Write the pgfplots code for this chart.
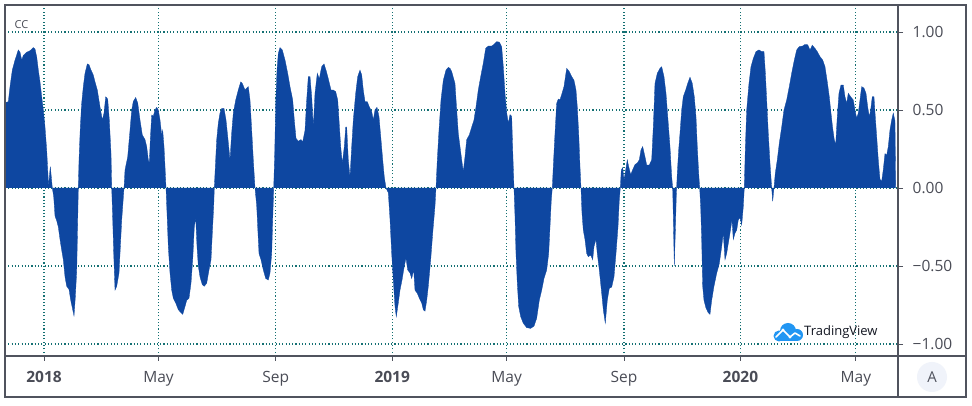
\documentclass[border=0pt]{standalone}
\usepackage{pgfplots}
\pgfplotsset{compat=1.18}
\usepackage{fontspec}
\setmainfont{Open Sans}
\definecolor{tvblue}{RGB}{14,71,161}
\definecolor{gridc}{RGB}{20,112,115}
\definecolor{bord}{RGB}{80,83,94}
\definecolor{txt}{RGB}{74,76,86}
\definecolor{logoblue}{RGB}{33,150,243}
\definecolor{btn}{RGB}{240,243,250}
\pgfplotstableread{
px val
5 0
5 0.547
8.3 0.553
10 0.65
12.3 0.756
15 0.82
18.3 0.885
20 0.87
21.7 0.82
23.3 0.85
26.7 0.87
30 0.88
33.3 0.90
35 0.89
36.7 0.84
38.3 0.756
40 0.68
41.7 0.585
43.3 0.5
45 0.39
46.7 0.24
47.7 0.115
48.7 0.0
49.3 0.07
50.3 0.137
51.3 0.07
52.3 0
53.7 -0.056
55 -0.18
56.7 -0.21
58.3 -0.25
60 -0.33
61.7 -0.40
63.3 -0.46
65 -0.57
66.7 -0.63
69 -0.65
70.7 -0.72
72.7 -0.78
74 -0.82
75.3 -0.70
76.7 -0.53
77.7 -0.205
78.3 0
79 0.18
80.3 0.39
81.7 0.545
83.3 0.65
85 0.735
87.3 0.795
89 0.79
91 0.756
93.3 0.724
95 0.68
97.3 0.628
100 0.52
102.3 0.436
104 0.48
105.7 0.585
107.7 0.57
109.3 0.436
111 0.22
111.7 0
112.7 -0.2
113.7 -0.42
115 -0.655
116.7 -0.63
119 -0.545
120 -0.42
121.7 -0.205
124 0
125 0.115
127.7 0.2
130 0.37
131.7 0.5
133.3 0.555
135.7 0.58
137.7 0.545
140 0.436
142.3 0.34
145 0.31
146.7 0.265
148.3 0.18
149.3 0.16
150.3 0.31
151.7 0.468
153.3 0.46
155 0.5
156.7 0.517
158.3 0.5
160 0.436
161.7 0.34
162.7 0.37
164 0.265
165 0.137
166 0
167 -0.16
168.3 -0.376
170 -0.545
171.7 -0.655
173.3 -0.706
175.7 -0.737
178.3 -0.78
181 -0.80
182.7 -0.81
185 -0.76
186.7 -0.72
189 -0.706
191 -0.61
192.7 -0.46
194.3 -0.25
195.7 -0.19
197 -0.376
198.3 -0.50
200 -0.57
202.3 -0.62
204.3 -0.63
206.7 -0.61
209 -0.525
211 -0.46
212.3 -0.29
213.7 -0.115
214.3 0
215 0.094
216.7 0.31
218.3 0.415
220 0.48
221.7 0.51
224 0.51
226 0.436
227.7 0.33
230 0.18
231.7 0.355
233.3 0.48
235.7 0.564
238.3 0.628
240.7 0.68
242.3 0.67
245 0.628
246.7 0.64
248.3 0.65
250 0.564
251.7 0.37
253.3 0.18
255 0
256.7 -0.115
257.7 -0.25
259 -0.42
261 -0.46
263.3 -0.525
265.7 -0.58
268.3 -0.59
270 -0.545
271.7 -0.42
272.7 -0.2
273.7 0
274.7 0.22
275.7 0.54
277 0.756
278.3 0.863
280 0.90
282.3 0.885
285 0.82
287.7 0.735
290 0.65
292.7 0.564
294.3 0.436
296 0.318
298.3 0.30
301 0.31
302.7 0.295
305 0.37
306.7 0.564
308.3 0.714
310 0.714
311.7 0.585
313.3 0.39
315 0.607
317.3 0.735
319.3 0.70
321.7 0.778
324 0.795
326 0.756
328.3 0.70
331 0.628
333.3 0.628
335.7 0.617
337.7 0.564
339 0.436
340.7 0.265
342.3 0.158
344.3 0.265
345.7 0.39
346.7 0.39
348.3 0.18
350 0.07
351.7 0.265
353.3 0.436
355.7 0.607
357.7 0.714
360 0.756
361.7 0.724
363.3 0.628
365 0.553
367.3 0.553
369.3 0.52
371.7 0.49
373.3 0.436
375 0.5
377 0.517
379 0.457
381 0.31
382.7 0.18
384.3 0.07
386 0
388.3 -0.03
390 -0.2
391.7 -0.42
393.3 -0.59
395 -0.76
396.3 -0.825
398.3 -0.737
400 -0.655
402.3 -0.58
404.3 -0.50
406 -0.45
407.7 -0.525
410 -0.545
411.7 -0.58
413.7 -0.525
415 -0.655
417.3 -0.675
419.3 -0.706
421.7 -0.737
423.3 -0.78
425 -0.79
426.7 -0.72
428.3 -0.63
430.7 -0.46
432.7 -0.29
435 -0.115
436 0
437.3 0.18
439 0.37
441 0.564
443.3 0.69
446 0.756
448.3 0.773
450 0.767
451.7 0.746
455 0.67
456.7 0.5
458.3 0.35
460 0.265
461.7 0.18
463.3 0.105
465 0.2
466.7 0.31
469.3 0.34
471.7 0.39
474 0.436
476 0.52
478.3 0.628
480.7 0.714
483.3 0.8
485.7 0.895
488.3 0.91
491.7 0.91
494 0.92
496.7 0.938
499.3 0.935
501.7 0.905
503.3 0.778
505 0.607
506.7 0.483
508.3 0.415
510 0.47
511.7 0.46
512.7 0.244
514 0
515 -0.18
516 -0.42
517.3 -0.61
518.7 -0.76
520.7 -0.825
523.3 -0.867
526.7 -0.895
530.7 -0.90
534 -0.885
536.7 -0.835
539.3 -0.72
541.7 -0.655
544 -0.58
546.7 -0.525
548.7 -0.42
550 -0.25
551.3 -0.077
552.3 0
553.3 0.137
555 0.35
556.7 0.543
558.3 0.57
560 0.565
561.7 0.60
564 0.65
566.7 0.767
569.3 0.746
571.7 0.714
574 0.69
576 0.628
577.3 0.52
578.7 0.35
580 0.137
581 0
582 -0.16
583.3 -0.27
585 -0.33
586.7 -0.42
588.3 -0.44
590.7 -0.43
592.7 -0.46
594 -0.375
596 -0.33
597.3 -0.42
599.3 -0.525
601.7 -0.675
603.3 -0.78
605.3 -0.867
607.3 -0.72
609.3 -0.643
611.7 -0.635
614 -0.57
616 -0.42
618 -0.25
619.3 -0.077
620.3 0
621.3 0.115
622.7 0.13
624 0.05
625.7 0.115
627.3 0.18
628.7 0.137
630.7 0.085
632.7 0.117
635 0.15
637.3 0.16
639.3 0.18
641 0.244
642.7 0.265
645 0.2
646.7 0.147
649.3 0.147
651.7 0.18
653.3 0.39
655 0.67
657.3 0.735
660 0.767
661.7 0.777
664 0.714
666 0.607
668 0.436
670 0.265
671.7 0.072
672.7 0
673.3 -0.18
674.3 -0.50
675.3 -0.29
676.3 -0.05
677.3 0.094
678.7 0.244
680 0.35
681.7 0.5
683.3 0.585
685.7 0.628
687.7 0.67
690 0.71
692.3 0.67
694.3 0.585
696 0.457
697.3 0.265
698.7 0.094
699.7 0
700.7 -0.12
701.7 -0.33
702.7 -0.63
704 -0.72
706 -0.77
708.3 -0.80
710 -0.81
711.7 -0.72
714 -0.63
716.7 -0.547
719.3 -0.485
721.7 -0.376
723.3 -0.29
725 -0.46
726.7 -0.42
728.3 -0.355
730 -0.29
732 -0.205
733.3 -0.33
735 -0.29
736.7 -0.27
738.3 -0.205
740 -0.19
741.7 -0.237
743.3 -0.12
744.3 0
745.3 0.244
746.7 0.5
749 0.67
751 0.777
753.3 0.83
756 0.874
759 0.885
761.7 0.874
764 0.874
765.3 0.745
766.7 0.564
768.3 0.35
770 0.16
771.7 0
772.7 -0.085
774 0
775.3 0.094
777.3 0.18
779.3 0.286
781.7 0.39
784 0.5
786.7 0.564
789.3 0.65
791.7 0.735
794 0.81
796.7 0.885
799.3 0.906
802.7 0.91
805 0.92
807.7 0.918
810 0.885
812.3 0.915
815 0.895
817.3 0.874
820 0.842
822.7 0.82
825 0.778
827.3 0.68
829.3 0.585
831 0.48
832.7 0.383
834.3 0.31
835.7 0.275
837.3 0.457
839 0.607
841 0.66
843.3 0.66
845 0.585
846.7 0.543
848.3 0.607
850.7 0.585
853.3 0.564
855 0.5
856.7 0.447
858.3 0.48
860 0.564
861.7 0.65
864 0.64
866 0.607
867.7 0.52
869.3 0.457
870.7 0.5
872.3 0.585
874 0.585
875.3 0.457
876.7 0.33
878.3 0.18
880 0.055
881.7 0.043
883.3 0.117
885 0.22
886.7 0.21
888.3 0.265
890 0.372
891.7 0.436
893.3 0.48
895 0.43
895.7 0
}\cc
\begin{document}
\begin{tikzpicture}[x=1pt,y=1pt]
\fill[white] (0,0) rectangle (972,406);
\begin{axis}[
  at={(5pt,50pt)}, anchor=south west,
  scale only axis, width=893pt, height=351pt,
  xmin=-40.9, xmax=895.2, ymin=-1.077, ymax=1.173,
  x filter/.expression={(x-44)*1.0482},
  xtick={0,120,243,365,485,608,730,851},
  xticklabels={\textbf{2018},May,Sep,\textbf{2019},May,Sep,\textbf{2020},May},
  ytick={-1,-0.5,0,0.5,1},
  yticklabels={−1.00,−0.50,0.00,0.50,1.00},
  axis line style={draw=bord, line width=1.2pt},
  ytick pos=right, xtick pos=bottom,
  tick align=outside,
  major tick length=5pt,
  tick style={draw=bord, line width=0.8pt},
  grid=major,
  major grid style={draw=gridc, line width=1.1pt, dash pattern=on 1.1pt off 2.2pt},
  yticklabel style={anchor=west, inner sep=0pt, xshift=9.5pt, font=\fontsize{15.5}{17}\selectfont, text=txt},
  xticklabel style={anchor=base, inner sep=0pt, yshift=-22pt, font=\fontsize{15.5}{17}\selectfont, text=txt},
]
\addplot[fill=tvblue, draw=tvblue, line width=0.3pt] table[x=px, y=val] {\cc};
\end{axis}
\draw[bord, line width=1.2pt] (5,9) rectangle (966,401);
\draw[bord, line width=1.2pt] (898,9) -- (898,401);
\draw[bord, line width=1.2pt] (5,50) -- (966,50);
\node[text=txt, font=\fontsize{11}{12}\selectfont, inner sep=0pt] at (21.5,381.5) {CC};
% TradingView logo
\fill[logoblue] (779,70) circle (5.5);
\fill[logoblue] (788,75) circle (8);
\fill[logoblue] (797,71) circle (6);
\fill[logoblue] (779,64.5) rectangle (797,71);
\draw[white, line width=1.6pt, line join=round, line cap=round] (776,69) -- (783,76) -- (790,69) -- (795,73) -- (800,70);
\fill[white] (783,76) circle (1.6);
\fill[white] (790,69) circle (1.6);
\node[anchor=west, inner sep=0pt, text={rgb,255:red,19;green,23;blue,34}, font=\fontsize{13}{14}\selectfont] at (804,74) {TradingView};
% A button
\fill[btn] (932,29) circle (15);
\node[text=bord, font=\fontsize{15}{16}\selectfont] at (932,29) {A};
\end{tikzpicture}
\end{document}
